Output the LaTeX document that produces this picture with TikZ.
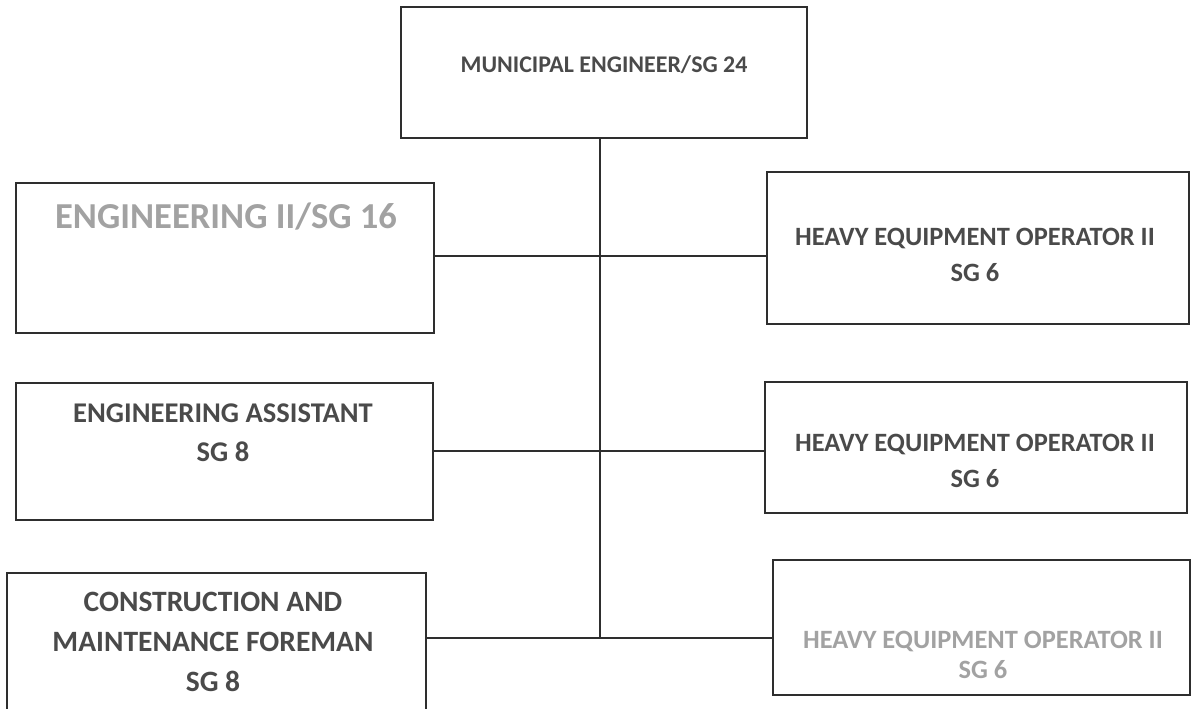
\documentclass[tikz,border=0pt]{standalone}
\usepackage{fontspec}
\setmainfont{Carlito}
\usetikzlibrary{calc}
\definecolor{tinta}{HTML}{4A4A4A}
\definecolor{palido}{HTML}{A2A2A2}
\definecolor{borda}{HTML}{2E2E2E}

\begin{document}
\begin{tikzpicture}[x=0.025cm, y=-0.025cm,
  post/.style={draw=borda, line width=1.1pt, rectangle, inner sep=0pt},
  cargo/.style={tinta, align=center, inner sep=0pt},
  link/.style={borda, line width=0.9pt}]
  \useasboundingbox (0,0) rectangle (1193,709);
  % caixas
  \node[post, minimum width=10.15cm, minimum height=3.275cm] (mun) at (604,72.5) {};
  \node[post, minimum width=10.45cm, minimum height=3.75cm] (engII) at (225,258) {};
  \node[post, minimum width=10.425cm, minimum height=3.425cm] (engAsst) at (224.5,451.5) {};
  \node[post, minimum width=10.475cm, minimum height=4.425cm] (cmf) at (216.5,661.5) {};
  \node[post, minimum width=10.55cm, minimum height=3.8cm] (heoA) at (978,248) {};
  \node[post, minimum width=10.55cm, minimum height=3.275cm] (heoB) at (976,447.5) {};
  \node[post, minimum width=10.425cm, minimum height=3.375cm] (heoC) at (981.5,627.5) {};
  % textos
  \node[cargo, font=\bfseries\fontsize{17}{20}\selectfont] (munT) at (604,65) {MUNICIPAL ENGINEER/SG 24};
  \node[cargo, palido, font=\bfseries\fontsize{26}{30}\selectfont] (engIIT) at (226,217) {ENGINEERING II/SG 16};
  \node[cargo, font=\bfseries\fontsize{20.3}{28}\selectfont] (engAsstT) at (223,433) {ENGINEERING ASSISTANT\\SG 8};
  \node[cargo, font=\bfseries\fontsize{21}{28.5}\selectfont] (cmfT) at (213,642) {CONSTRUCTION AND\\MAINTENANCE FOREMAN\\SG 8};
  \node[cargo, font=\bfseries\fontsize{18.8}{25.6}\selectfont] (heoAT) at (975,255) {HEAVY EQUIPMENT OPERATOR II\\SG 6};
  \node[cargo, font=\bfseries\fontsize{18.8}{26}\selectfont] (heoBT) at (975,461) {HEAVY EQUIPMENT OPERATOR II\\SG 6};
  \node[cargo, palido, font=\bfseries\fontsize{18.8}{21}\selectfont] (heoCT) at (983,655) {HEAVY EQUIPMENT OPERATOR II\\SG 6};
  % ligacoes
  \coordinate (spine) at (600,638);
  \coordinate (r1) at (600,256);
  \coordinate (r2) at (600,451);
  \draw[link] (mun.south -| spine) -- (spine);
  \draw[link] (engII.east |- r1) -- (heoA.west |- r1);
  \draw[link] (engAsst.east |- r2) -- (heoB.west |- r2);
  \draw[link] (cmf.east |- spine) -- (heoC.west |- spine);
\end{tikzpicture}
\end{document}
